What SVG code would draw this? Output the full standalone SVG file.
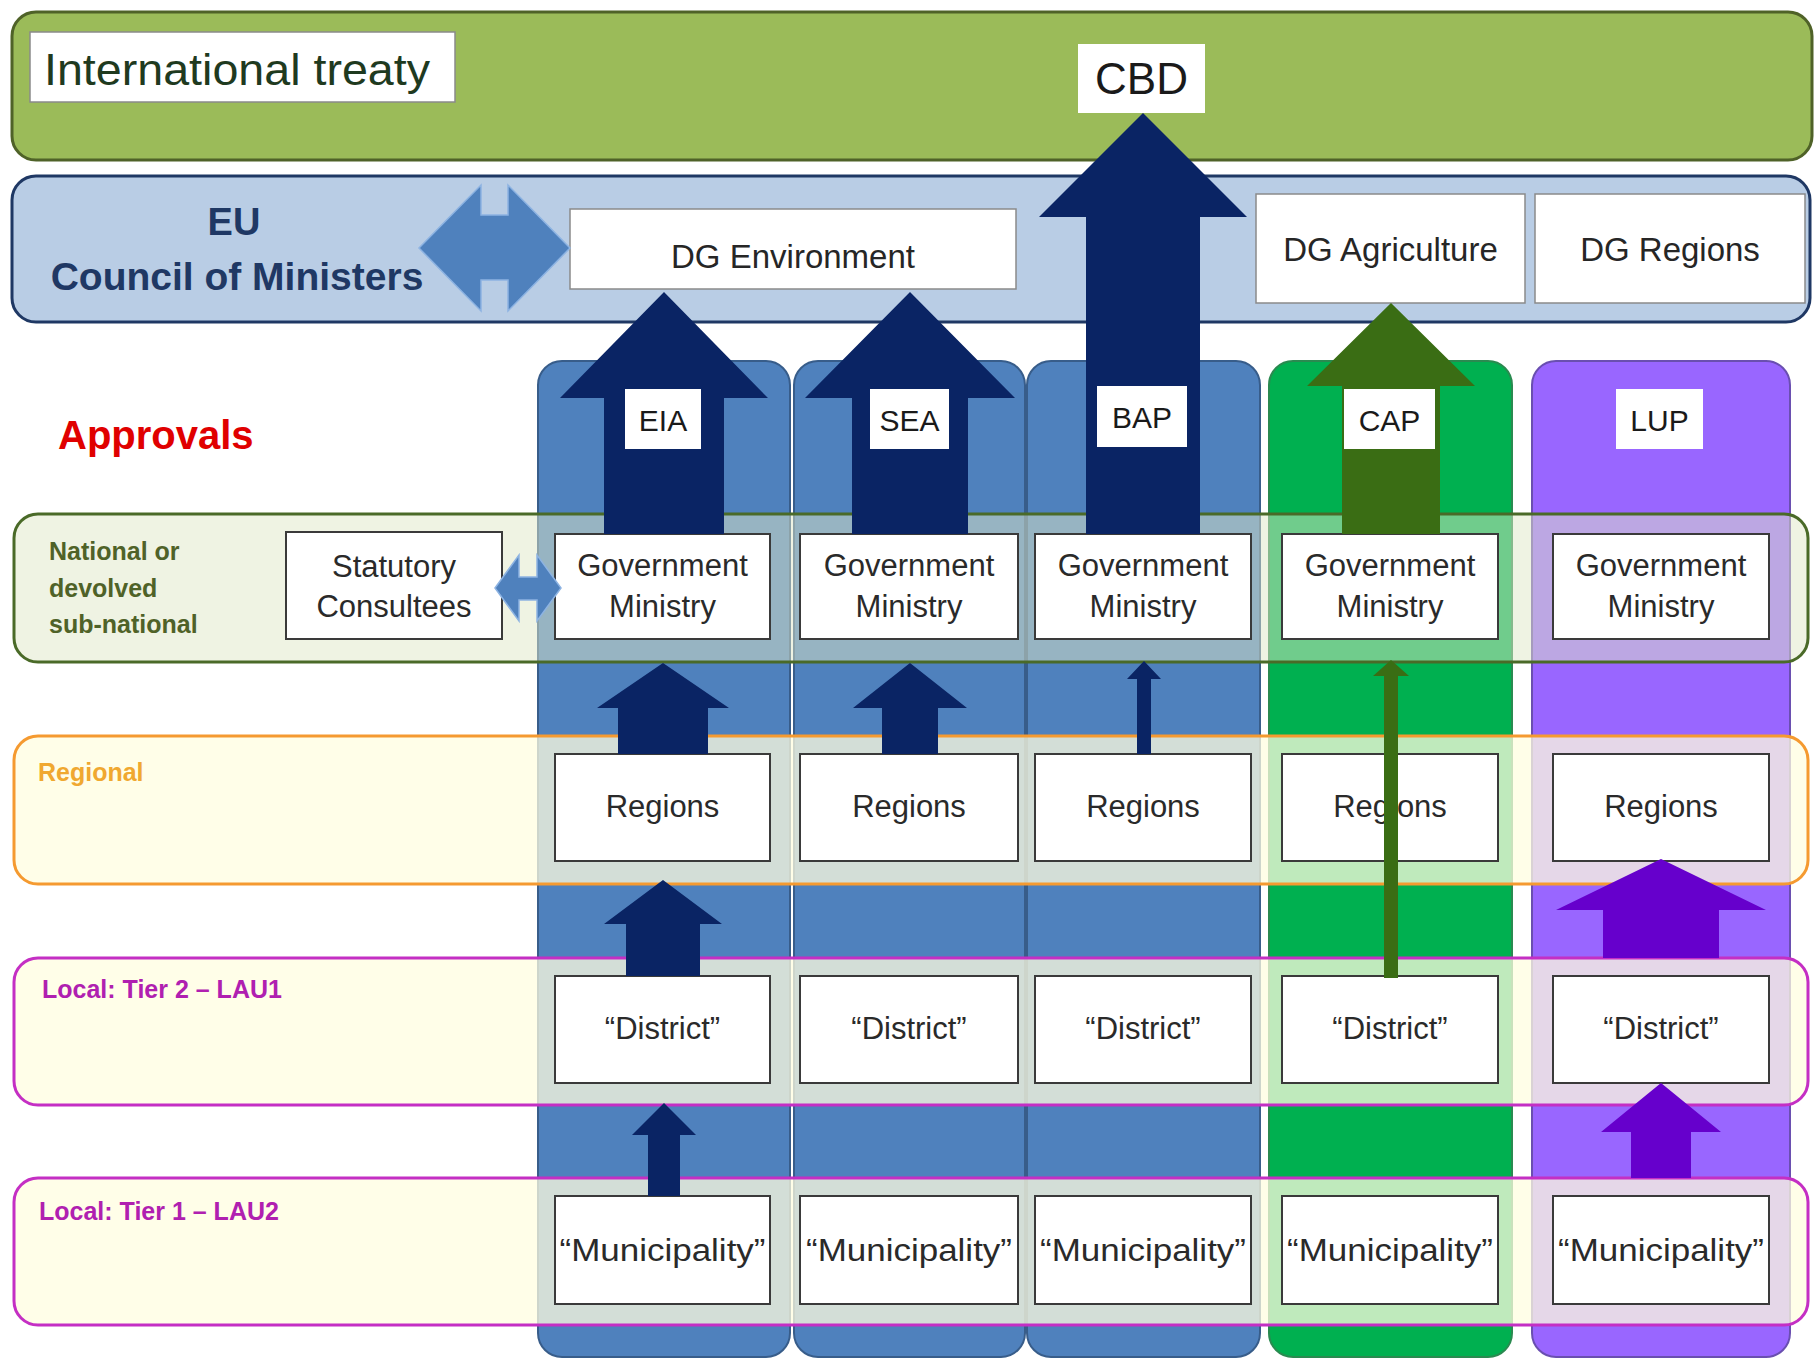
<svg xmlns="http://www.w3.org/2000/svg" width="1814" height="1359" viewBox="0 0 1814 1359">
<style>
  .lbl { font-family: "Liberation Sans", Arial, sans-serif; }
  .node rect { fill: #ffffff; stroke: #3a3a3a; stroke-width: 2; }
  .node text { font-family: "Liberation Sans", Arial, sans-serif; font-size: 31px; fill: #2a2a2a; text-anchor: middle; }
  .dg rect { fill: #ffffff; stroke: #8a8a8a; stroke-width: 1.5; }
  .dg text { font-family: "Liberation Sans", Arial, sans-serif; font-size: 33px; fill: #262626; text-anchor: middle; }
  .tag rect { fill: #ffffff; }
  .tag text { font-family: "Liberation Sans", Arial, sans-serif; font-size: 30px; fill: #1a1a1a; text-anchor: middle; }
  .colBlue { fill: #4f81bd; stroke: #385d8a; stroke-width: 2; }
  .colGreen { fill: #00b050; stroke: #2a8a50; stroke-width: 2; }
  .colPurple { fill: #9966ff; stroke: #6a4fb0; stroke-width: 2; }
  .arrNavy { fill: #0a2464; }
  .arrGreen { fill: #3a6d14; }
  .arrPurple { fill: #6600cc; }
  .arrDbl { fill: #4f81bd; stroke: #8db3e2; stroke-width: 1.5; }
  .band text { font-family: "Liberation Sans", Arial, sans-serif; font-weight: bold; font-size: 25px; }
</style>

<rect x="0" y="0" width="1814" height="1359" fill="#ffffff"/>

<!-- Top levels -->
<g id="international-treaty">
  <rect x="12" y="12" width="1800" height="148" rx="24" fill="#9bbb59" stroke="#4f6228" stroke-width="3"/>
  <rect x="30" y="32" width="425" height="70" fill="#ffffff" stroke="#8a8a8a" stroke-width="1.5"/>
  <text class="lbl" x="44" y="85" font-size="44" fill="#1f3a1f" textLength="386" lengthAdjust="spacingAndGlyphs">International  treaty</text>
</g>
<g id="cbd" class="tag">
  <rect x="1078" y="44" width="127" height="69"/>
  <text x="1141.5" y="94" style="font-size:44px">CBD</text>
</g>

<g id="eu-band">
  <rect x="12" y="176" width="1798" height="146" rx="24" fill="#b9cde5" stroke="#1f3864" stroke-width="3"/>
  <text class="lbl" x="234" y="235" font-size="38" font-weight="bold" fill="#1f3864" text-anchor="middle">EU</text>
  <text class="lbl" x="237" y="290" font-size="39" font-weight="bold" fill="#1f3864" text-anchor="middle">Council of Ministers</text>
</g>

<!-- Columns -->
<g id="columns">
  <rect id="col-eia" class="colBlue" x="538" y="361" width="252" height="996" rx="24"/>
  <rect id="col-sea" class="colBlue" x="794" y="361" width="231" height="996" rx="24"/>
  <rect id="col-bap" class="colBlue" x="1027" y="361" width="233" height="996" rx="24"/>
  <rect id="col-cap" class="colGreen" x="1269" y="361" width="243" height="996" rx="24"/>
  <rect id="col-lup" class="colPurple" x="1532" y="361" width="258" height="996" rx="24"/>
</g>

<text class="lbl" x="58" y="449" font-size="40" font-weight="bold" fill="#e00000">Approvals</text>

<!-- Level bands -->
<g id="band-national" class="band">
  <rect x="14" y="514" width="1794" height="148" rx="24" fill="#dfe8c8" fill-opacity="0.5" stroke="#4a6a28" stroke-width="3"/>
  <text x="49" y="560" fill="#4f6228">National or</text>
  <text x="49" y="597" fill="#4f6228">devolved</text>
  <text x="49" y="633" fill="#4f6228">sub-national</text>
</g>
<g id="band-regional" class="band">
  <rect x="14" y="736" width="1794" height="148" rx="24" fill="#fffde0" fill-opacity="0.75" stroke="#f59a30" stroke-width="3"/>
  <text x="38" y="781" fill="#f0a830">Regional</text>
</g>
<g id="band-tier2" class="band">
  <rect x="14" y="958" width="1794" height="147" rx="24" fill="#fffee0" fill-opacity="0.75" stroke="#c42fc4" stroke-width="3"/>
  <text x="42" y="998" fill="#b020b0">Local: Tier 2 – LAU1</text>
</g>
<g id="band-tier1" class="band">
  <rect x="14" y="1178" width="1794" height="147" rx="24" fill="#fffee0" fill-opacity="0.75" stroke="#c42fc4" stroke-width="3"/>
  <text x="39" y="1220" fill="#b020b0">Local: Tier 1 – LAU2</text>
</g>

<!-- DG boxes -->
<g id="dg-environment" class="dg"><rect x="570" y="209" width="446" height="80"/><text x="793" y="268">DG Environment</text></g>
<g id="dg-agriculture" class="dg"><rect x="1256" y="194" width="269" height="109"/><text x="1390.5" y="261">DG Agriculture</text></g>
<g id="dg-regions" class="dg"><rect x="1535" y="194" width="270" height="109"/><text x="1670" y="261">DG Regions</text></g>

<!-- Nodes -->
<g id="statutory-consultees" class="node"><rect x="286" y="532" width="216" height="107"/><text x="394" y="577">Statutory</text><text x="394" y="617">Consultees</text></g>

<g id="gov-eia" class="node"><rect x="555" y="534" width="215" height="105"/><text x="662.5" y="576">Government</text><text x="662.5" y="617">Ministry</text></g>
<g id="gov-sea" class="node"><rect x="800" y="534" width="218" height="105"/><text x="909" y="576">Government</text><text x="909" y="617">Ministry</text></g>
<g id="gov-bap" class="node"><rect x="1035" y="534" width="216" height="105"/><text x="1143" y="576">Government</text><text x="1143" y="617">Ministry</text></g>
<g id="gov-cap" class="node"><rect x="1282" y="534" width="216" height="105"/><text x="1390" y="576">Government</text><text x="1390" y="617">Ministry</text></g>
<g id="gov-lup" class="node"><rect x="1553" y="534" width="216" height="105"/><text x="1661" y="576">Government</text><text x="1661" y="617">Ministry</text></g>

<g id="reg-eia" class="node"><rect x="555" y="754" width="215" height="107"/><text x="662.5" y="817">Regions</text></g>
<g id="reg-sea" class="node"><rect x="800" y="754" width="218" height="107"/><text x="909" y="817">Regions</text></g>
<g id="reg-bap" class="node"><rect x="1035" y="754" width="216" height="107"/><text x="1143" y="817">Regions</text></g>
<g id="reg-cap" class="node"><rect x="1282" y="754" width="216" height="107"/><text x="1390" y="817">Regions</text></g>
<g id="reg-lup" class="node"><rect x="1553" y="754" width="216" height="107"/><text x="1661" y="817">Regions</text></g>

<g id="dist-eia" class="node"><rect x="555" y="976" width="215" height="107"/><text x="662.5" y="1039">“District”</text></g>
<g id="dist-sea" class="node"><rect x="800" y="976" width="218" height="107"/><text x="909" y="1039">“District”</text></g>
<g id="dist-bap" class="node"><rect x="1035" y="976" width="216" height="107"/><text x="1143" y="1039">“District”</text></g>
<g id="dist-cap" class="node"><rect x="1282" y="976" width="216" height="107"/><text x="1390" y="1039">“District”</text></g>
<g id="dist-lup" class="node"><rect x="1553" y="976" width="216" height="107"/><text x="1661" y="1039">“District”</text></g>

<g id="mun-eia" class="node"><rect x="555" y="1196" width="215" height="108"/><text x="662.5" y="1261" textLength="206" lengthAdjust="spacingAndGlyphs">“Municipality”</text></g>
<g id="mun-sea" class="node"><rect x="800" y="1196" width="218" height="108"/><text x="909" y="1261" textLength="206" lengthAdjust="spacingAndGlyphs">“Municipality”</text></g>
<g id="mun-bap" class="node"><rect x="1035" y="1196" width="216" height="108"/><text x="1143" y="1261" textLength="206" lengthAdjust="spacingAndGlyphs">“Municipality”</text></g>
<g id="mun-cap" class="node"><rect x="1282" y="1196" width="216" height="108"/><text x="1390" y="1261" textLength="206" lengthAdjust="spacingAndGlyphs">“Municipality”</text></g>
<g id="mun-lup" class="node"><rect x="1553" y="1196" width="216" height="108"/><text x="1661" y="1261" textLength="206" lengthAdjust="spacingAndGlyphs">“Municipality”</text></g>

<!-- Connectors -->
<g id="connectors">
  <path class="arrDbl" d="M419,248 L481,185 L481,215 L508,215 L508,185 L570,248 L508,311 L508,280 L481,280 L481,311 Z"/>
  <path class="arrDbl" d="M495,588 L519,555 L519,577 L537,577 L537,555 L561,588 L537,621 L537,600 L519,600 L519,621 Z"/>
  <path class="arrNavy" d="M664,292 L768,398 L724,398 L724,534 L604,534 L604,398 L560,398 Z"/>
  <path class="arrNavy" d="M910,292 L1015,398 L968,398 L968,534 L852,534 L852,398 L805,398 Z"/>
  <path class="arrNavy" d="M1143,113 L1247,217 L1200,217 L1200,534 L1086,534 L1086,217 L1039,217 Z"/>
  <path class="arrGreen" d="M1391,303 L1475,386 L1440,386 L1440,534 L1342,534 L1342,386 L1307,386 Z"/>
  <path class="arrNavy" d="M663,663 L729,708 L708,708 L708,754 L618,754 L618,708 L597,708 Z"/>
  <path class="arrNavy" d="M910,663 L967,708 L938,708 L938,754 L882,754 L882,708 L853,708 Z"/>
  <path class="arrNavy" d="M1144,661 L1161,679 L1151,679 L1151,754 L1137,754 L1137,679 L1127,679 Z"/>
  <path class="arrGreen" d="M1391,660 L1409,676 L1398,676 L1398,978 L1384,978 L1384,676 L1373,676 Z"/>
  <path class="arrNavy" d="M663,880 L722,924 L700,924 L700,976 L626,976 L626,924 L604,924 Z"/>
  <path class="arrNavy" d="M664,1103 L696,1135 L680,1135 L680,1196 L648,1196 L648,1135 L632,1135 Z"/>
  <path class="arrPurple" d="M1661,859 L1766,910 L1719,910 L1719,958 L1603,958 L1603,910 L1556,910 Z"/>
  <path class="arrPurple" d="M1661,1083 L1721,1132 L1691,1132 L1691,1178 L1631,1178 L1631,1132 L1601,1132 Z"/>
</g>

<!-- Column labels -->
<g id="label-eia" class="tag"><rect x="625" y="389" width="76" height="60"/><text x="663" y="431">EIA</text></g>
<g id="label-sea" class="tag"><rect x="870" y="389" width="79" height="60"/><text x="909.5" y="431">SEA</text></g>
<g id="label-bap" class="tag"><rect x="1097" y="386" width="90" height="61"/><text x="1142" y="428">BAP</text></g>
<g id="label-cap" class="tag"><rect x="1344" y="389" width="91" height="60"/><text x="1389.5" y="431">CAP</text></g>
<g id="label-lup" class="tag"><rect x="1616" y="389" width="87" height="60"/><text x="1659.5" y="431">LUP</text></g>
</svg>
